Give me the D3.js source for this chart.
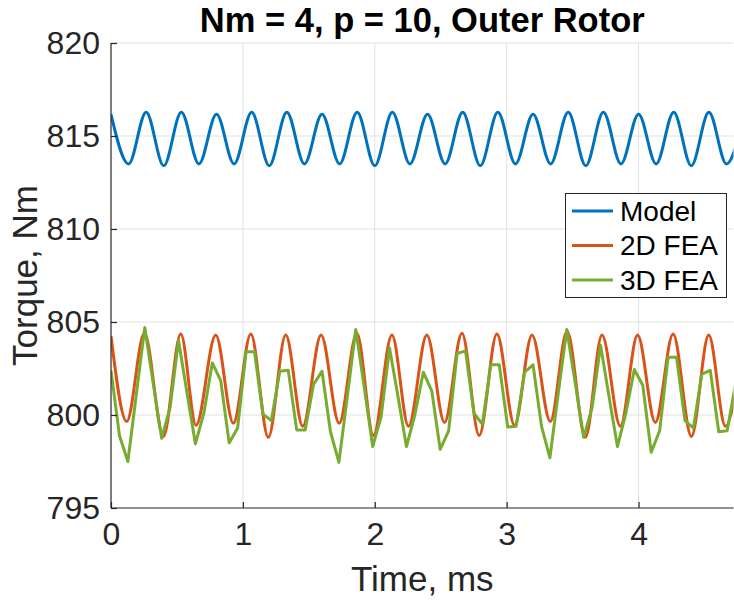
<!DOCTYPE html>
<html>
<head>
<meta charset="utf-8">
<script src="https://cdn.jsdelivr.net/npm/d3@7"></script>
<style>
  html, body { margin: 0; padding: 0; background: #fff; }
  svg { display: block; font-family: "Liberation Sans", Arial, Helvetica, sans-serif; }
</style>
</head>
<body>
<svg id="chart" width="734" height="601"></svg>
<script>
// ---------------- data ----------------
const titleText = "Nm = 4, p = 10, Outer Rotor";
const xLabel = "Time, ms";
const yLabel = "Torque, Nm";
const xTicks = [0, 1, 2, 3, 4];
const yTicks = [795, 800, 805, 810, 815, 820];
const seriesNames = ["Model", "2D FEA", "3D FEA"];

// Model: extrema of the smooth curve (peaks / troughs)
const modelTime = [0, 0.1333, 0.2667, 0.4, 0.5333, 0.6667, 0.8, 0.9333, 1.0667, 1.2,
  1.3333, 1.4667, 1.6, 1.7333, 1.8667, 2.0, 2.1333, 2.2667, 2.4, 2.5333,
  2.6667, 2.8, 2.9333, 3.0667, 3.2, 3.3333, 3.4667, 3.6, 3.7333, 3.8667,
  4.0, 4.1333, 4.2667, 4.4, 4.5333, 4.6667, 4.8];
const modelTorque = [816.17, 813.5, 816.28, 813.4, 816.28, 813.5, 816.17, 813.5, 816.28, 813.4,
  816.28, 813.5, 816.17, 813.5, 816.28, 813.4, 816.28, 813.5, 816.17, 813.5,
  816.28, 813.4, 816.28, 813.5, 816.17, 813.5, 816.28, 813.4, 816.28, 813.5,
  816.17, 813.5, 816.28, 813.4, 816.28, 813.5, 816.17];

// 2D FEA: extrema
const fea2dTime = [0, 0.119, 0.253, 0.397, 0.529, 0.645, 0.794, 0.928, 1.060, 1.193,
  1.325, 1.454, 1.593, 1.730, 1.864, 1.990, 2.130, 2.256, 2.395, 2.529,
  2.661, 2.792, 2.926, 3.060, 3.192, 3.331, 3.458, 3.597, 3.723, 3.862,
  3.993, 4.127, 4.262, 4.401, 4.532, 4.659, 4.795];
const fea2dTorque = [804.25, 799.65, 804.4, 798.85, 804.35, 799.45, 804.3, 799.55, 804.35, 798.8,
  804.3, 799.4, 804.3, 799.55, 804.4, 798.9, 804.3, 799.4, 804.3, 799.6,
  804.4, 798.9, 804.35, 799.45, 804.3, 799.65, 804.5, 798.8, 804.3, 799.4,
  804.3, 799.6, 804.35, 798.85, 804.3, 799.4, 804.3];

// 3D FEA: coarse samples
const fea3dTime = [0, 0.064, 0.128, 0.192, 0.256, 0.32, 0.384, 0.448, 0.512, 0.576,
  0.64, 0.704, 0.768, 0.832, 0.896, 0.96, 1.024, 1.088, 1.152, 1.216,
  1.28, 1.344, 1.408, 1.472, 1.536, 1.6, 1.664, 1.728, 1.792, 1.856,
  1.92, 1.984, 2.048, 2.112, 2.176, 2.24, 2.304, 2.368, 2.432, 2.496,
  2.56, 2.624, 2.688, 2.752, 2.816, 2.88, 2.944, 3.008, 3.072, 3.136,
  3.2, 3.264, 3.328, 3.392, 3.456, 3.52, 3.584, 3.648, 3.712, 3.776,
  3.84, 3.904, 3.968, 4.032, 4.096, 4.16, 4.224, 4.288, 4.352, 4.416,
  4.48, 4.544, 4.608, 4.672, 4.736];
const fea3dTorque = [802.4, 798.9, 797.5, 801.1, 804.7, 801.7, 798.75, 800.4, 804.0, 801.2,
  798.45, 800.1, 802.8, 801.85, 798.5, 799.3, 803.4, 803.4, 800.05, 799.7,
  802.35, 802.4, 799.2, 799.2, 801.65, 802.35, 799.1, 797.45, 801.0, 804.6,
  801.5, 798.3, 799.9, 803.6, 801.0, 798.3, 800.0, 802.3, 801.3, 798.15,
  799.15, 803.3, 803.45, 800.1, 799.5, 802.7, 802.7, 799.35, 799.4, 802.3,
  802.7, 799.4, 797.7, 801.2, 804.6, 801.7, 798.8, 800.4, 803.75, 801.0,
  798.3, 800.1, 802.45, 801.6, 798.0, 799.15, 803.1, 803.1, 799.7, 799.3,
  802.2, 802.4, 799.1, 799.15, 801.7];

// ---------------- layout ----------------
const colors = ["#0072BD", "#D95319", "#77AC30"];
const axisColor = "#262626";
const gridColor = "#e1e1e1";
const plot = { left: 111, right: 733.5, top: 43, bottom: 508 };

const svg = d3.select("#chart");
const x = d3.scaleLinear().domain([0, 4.72]).range([plot.left, plot.right]);
const y = d3.scaleLinear().domain([795, 820]).range([plot.bottom, plot.top]);

// grid
const grid = svg.append("g");
grid.selectAll("line.gx").data(xTicks.filter(d => d > 0)).join("line")
  .attr("x1", d => x(d)).attr("x2", d => x(d))
  .attr("y1", plot.top).attr("y2", plot.bottom)
  .attr("stroke", gridColor).attr("stroke-width", 1);
grid.selectAll("line.gy").data(yTicks.filter(d => d > 795)).join("line")
  .attr("x1", plot.left).attr("x2", plot.right)
  .attr("y1", d => y(d)).attr("y2", d => y(d))
  .attr("stroke", gridColor).attr("stroke-width", 1);

// clip
svg.append("clipPath").attr("id", "clip").append("rect")
  .attr("x", plot.left).attr("y", plot.top - 10)
  .attr("width", plot.right - plot.left).attr("height", plot.bottom - plot.top + 20);

const lines = svg.append("g").attr("clip-path", "url(#clip)");
const smooth = d3.line().x(d => x(d[0])).y(d => y(d[1])).curve(d3.curveMonotoneX);
const straight = d3.line().x(d => x(d[0])).y(d => y(d[1]));

const series = [
  { pts: d3.zip(modelTime, modelTorque), gen: smooth },
  { pts: d3.zip(fea2dTime, fea2dTorque), gen: smooth },
  { pts: d3.zip(fea3dTime, fea3dTorque), gen: straight }
];
series.forEach((s, i) => {
  lines.append("path").attr("d", s.gen(s.pts))
    .attr("fill", "none").attr("stroke", colors[i])
    .attr("stroke-width", 3).attr("stroke-linejoin", "round");
});

// axes
const xAxis = d3.axisBottom(x).tickValues(xTicks).tickSize(-6).tickPadding(14).tickFormat(d3.format("d"));
const yAxis = d3.axisLeft(y).tickValues(yTicks).tickSize(-6).tickPadding(11).tickFormat(d3.format("d"));

const gx = svg.append("g").attr("transform", `translate(0,${plot.bottom})`).call(xAxis);
const gy = svg.append("g").attr("transform", `translate(${plot.left},0)`).call(yAxis);
[gx, gy].forEach(g => {
  g.select(".domain").attr("stroke", axisColor).attr("stroke-width", 1.2);
  g.selectAll(".tick line").attr("stroke", axisColor).attr("stroke-width", 1.2);
  g.selectAll(".tick text").attr("fill", axisColor)
    .style("font-family", "'Liberation Sans', Arial, sans-serif").style("font-size", "32px");
});
gx.select(".domain").attr("d", `M${plot.left},0H${plot.right}`);
gy.select(".domain").attr("d", `M0,${plot.bottom}V${plot.top}`);

// labels
svg.append("text").attr("x", (plot.left + plot.right) / 2).attr("y", 591)
  .attr("text-anchor", "middle").attr("fill", axisColor)
  .style("font-size", "35px").text(xLabel);
svg.append("text").attr("transform", `translate(37,${(plot.top + plot.bottom) / 2}) rotate(-90)`)
  .attr("text-anchor", "middle").attr("fill", axisColor)
  .style("font-size", "35px").text(yLabel);
svg.append("text").attr("x", (plot.left + plot.right) / 2).attr("y", 31.5)
  .attr("text-anchor", "middle").attr("fill", "#000")
  .style("font-size", "34.5px").style("font-weight", "bold").text(titleText);

// legend
const lg = svg.append("g");
lg.append("rect").attr("x", 565.5).attr("y", 193.5).attr("width", 161).attr("height", 104)
  .attr("fill", "#fff").attr("stroke", axisColor).attr("stroke-width", 1);
const rowY = [211, 245.5, 280];
seriesNames.forEach((name, i) => {
  lg.append("line").attr("x1", 572).attr("x2", 613).attr("y1", rowY[i]).attr("y2", rowY[i])
    .attr("stroke", colors[i]).attr("stroke-width", 3);
  lg.append("text").attr("x", 620).attr("y", rowY[i]).attr("dy", "0.35em")
    .attr("fill", "#000").style("font-size", "28px").text(name);
});
</script>
</body>
</html>
